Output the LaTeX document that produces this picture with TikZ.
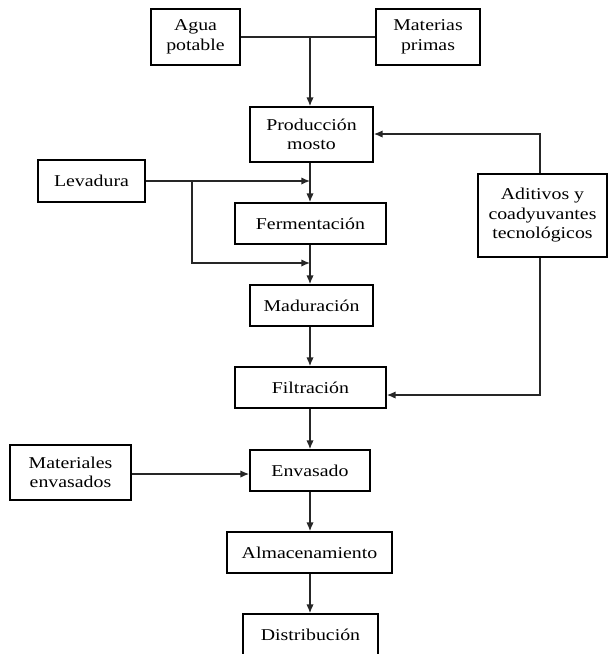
\documentclass[tikz,border=0pt]{standalone}
\usepackage{fontspec}
\setmainfont{Liberation Serif}[FakeStretch=1.2]
\usetikzlibrary{arrows.meta}
\begin{document}
\begin{tikzpicture}[x=0.75pt,y=-0.75pt,
  box/.style={draw=black,line width=1.3pt,rectangle,inner sep=0pt,align=center,
    font=\fontsize{12.4}{14.6}\selectfont},
  link/.style={draw=black!85,line width=1pt},
  flow/.style={link,-{Latex[length=6.5pt,width=5.5pt]}}]
\useasboundingbox (0,0) rectangle (608,654);
% process boxes (centres and sizes in pixels)
\node[box,minimum width=89pt*0.75,minimum height=56pt*0.75] (agua) at (195.5,37) {Agua\\potable};
\node[box,minimum width=104pt*0.75,minimum height=56pt*0.75] (mat) at (428,37) {Materias\\primas};
\node[box,minimum width=123pt*0.75,minimum height=55pt*0.75] (prod) at (311.5,134.5) {Producción\\mosto};
\node[box,minimum width=107pt*0.75,minimum height=42pt*0.75] (lev) at (91.5,181) {Levadura};
\node[box,minimum width=151pt*0.75,minimum height=41pt*0.75] (ferm) at (310.5,223.5) {Fermentación};
\node[box,minimum width=129pt*0.75,minimum height=83pt*0.75] (adit) at (542.5,215.5) {Aditivos y\\coadyuvantes\\tecnológicos};
\node[box,minimum width=123pt*0.75,minimum height=41pt*0.75] (mad) at (311.5,305.5) {Maduración};
\node[box,minimum width=151pt*0.75,minimum height=41pt*0.75] (filt) at (310.5,387.5) {Filtración};
\node[box,minimum width=121pt*0.75,minimum height=55pt*0.75] (matenv) at (70.5,472.5) {Materiales\\envasados};
\node[box,minimum width=120pt*0.75,minimum height=41pt*0.75] (env) at (310,470.5) {Envasado};
\node[box,minimum width=165pt*0.75,minimum height=41pt*0.75] (alm) at (309.5,552.5) {Almacenamiento};
\node[box,minimum width=135pt*0.75,minimum height=41pt*0.75] (dist) at (310.5,634.5) {Distribución};
% junction points
\coordinate (top) at (310,37);
\coordinate (levup) at (310,181);
\coordinate (split) at (192,181);
\coordinate (splitdn) at (192,263);
\coordinate (levdn) at (310,263);
\coordinate (aditup) at (540,134);
\coordinate (aditdn) at (540,395);
% raw materials into the mash
\draw[link] (agua.east) -- (mat.west);
\draw[flow] (top) -- (top |- prod.north);
% main line
\draw[flow] (prod.south -| top) -- (ferm.north -| top);
\draw[flow] (ferm.south -| top) -- (mad.north -| top);
\draw[flow] (mad.south -| top) -- (filt.north -| top);
\draw[flow] (filt.south -| top) -- (env.north -| top);
\draw[flow] (env.south -| top) -- (alm.north -| top);
\draw[flow] (alm.south -| top) -- (dist.north -| top);
% yeast feeds
\draw[flow] (lev.east) -- (levup);
\draw[flow] (split) -- (splitdn) -- (levdn);
% additives
\draw[flow] (adit.north -| aditup) -- (aditup) -- (aditup -| prod.east);
\draw[flow] (adit.south -| aditdn) -- (aditdn) -- (aditdn -| filt.east);
% packaging materials
\draw[flow] (matenv.east |- 0,474) -- (env.west |- 0,474);
\end{tikzpicture}
\end{document}
